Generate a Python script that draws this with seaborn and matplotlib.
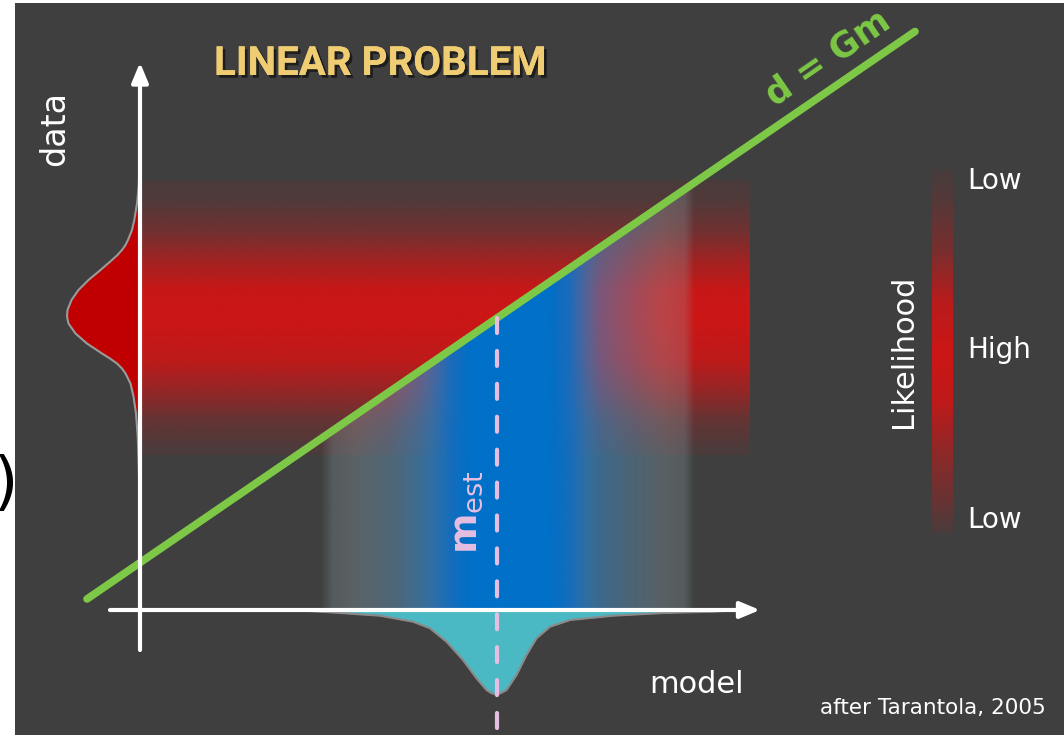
import numpy as np
import matplotlib
matplotlib.use("Agg")
import matplotlib.pyplot as plt
import seaborn as sns
from matplotlib.colors import LinearSegmentedColormap, Normalize
from matplotlib.cm import ScalarMappable
from matplotlib.patches import Polygon
import matplotlib.patheffects as pe

BG = '#3f3f3f'

# forward relation d = Gm (model, data end points)
line_m = [-1.06, 15.5]
line_d = [0.22, 11.57]

m_est = 7.14
d_obs = 5.84

# red likelihood band (profile across data direction)
red_band_m = [0.0, 12.2]
red_band_d = [3.1, 3.2, 3.8, 4.4, 5.0, 5.84, 6.4, 7.0, 7.6, 8.2, 8.6]
red_band_a = [0.08, 0.09, 0.27, 0.62, 0.9, 1.0, 0.97, 0.69, 0.34, 0.13, 0.08]

# blue band (profile across model direction)
blue_band_m = [3.6, 3.85, 4.3, 5.0, 5.6, 6.2, 6.6, 8.2, 8.6, 9.2, 9.9, 10.5, 10.9, 11.1]
blue_band_rgb = [(150, 175, 185), (150, 175, 185), (150, 175, 185), (100, 155, 195),
                 (58, 140, 204), (20, 112, 195), (0, 112, 200), (0, 112, 200),
                 (20, 112, 195), (58, 140, 204), (100, 155, 195), (150, 175, 185),
                 (150, 175, 185), (150, 175, 185)]
blue_band_a = [0.0, 0.25, 0.32, 0.42, 0.6, 0.95, 1.0, 1.0, 0.95, 0.55, 0.4, 0.3, 0.25, 0.0]

# likelihood legend bar, bottom -> top
legend_pos = [0.0, 0.08, 0.22, 0.36, 0.5, 0.64, 0.78, 0.92, 1.0]
legend_a = [0.08, 0.27, 0.55, 0.9, 1.0, 0.85, 0.4, 0.15, 0.06]
legend_ticks = [0.044, 0.512, 0.978]
legend_labels = ['Low', 'High', 'Low']

# data pdf (left of the data axis)
pdf_d = [9.2, 8.8, 8.47, 8.13, 7.8, 7.6, 7.4, 7.3, 7.2, 7.1, 7.0, 6.8, 6.6, 6.4, 6.2, 6.0,
         5.87, 5.73, 5.53, 5.33, 5.13, 5.03, 4.93, 4.83, 4.73, 4.53, 4.27, 3.93, 3.47, 2.93, 1.8]
pdf_w = [0.0, 0.014, 0.026, 0.06, 0.114, 0.16, 0.24, 0.29, 0.36, 0.45, 0.56, 0.79, 1.03, 1.23,
         1.37, 1.45, 1.46, 1.43, 1.29, 1.06, 0.76, 0.6, 0.46, 0.36, 0.29, 0.19, 0.13, 0.08,
         0.046, 0.026, 0.0]

# model pdf (below the model axis)
pdf_m = [3.0, 3.2, 3.8, 4.8, 5.46, 5.8, 6.13, 6.46, 6.73, 6.93, 7.02, 7.10, 7.2, 7.33, 7.53,
         7.73, 7.93, 8.2, 8.6, 9.46, 10.46, 11.46, 12.0]
pdf_h = [0.0, 0.01, 0.046, 0.114, 0.234, 0.366, 0.634, 1.0, 1.366, 1.6, 1.66, 1.686, 1.67, 1.6,
         1.3, 0.9, 0.566, 0.334, 0.2, 0.114, 0.06, 0.034, 0.0]


def band_cmap(pos, rgb, alpha, name):
    lo, hi = pos[0], pos[-1]
    stops = [((p - lo) / (hi - lo), (c[0] / 255, c[1] / 255, c[2] / 255, a))
             for p, c, a in zip(pos, rgb, alpha)]
    return LinearSegmentedColormap.from_list(name, stops, N=512)


sns.set_theme(style='dark', rc={'axes.facecolor': BG, 'figure.facecolor': 'white'})
plt.rcParams['font.family'] = ['DejaVu Sans']
plt.rcParams['mathtext.fontset'] = 'dejavusans'

fig = plt.figure(figsize=(10.64, 7.35), dpi=100)
ax = fig.add_axes([15 / 1064, 0, 1 - 15 / 1064, 732 / 735])
ax.set_facecolor(BG)

# red band
red = (205, 22, 22)
red_cmap = band_cmap(red_band_d, [red] * len(red_band_d), red_band_a, 'redband')
ax.imshow(np.linspace(0, 1, 512)[:, None], cmap=red_cmap, origin='lower', aspect='auto',
          extent=(red_band_m[0], red_band_m[1], red_band_d[0], red_band_d[-1]),
          interpolation='bilinear', zorder=1)

# blue band, only below the d = Gm line
blue_cmap = band_cmap(blue_band_m, blue_band_rgb, blue_band_a, 'blueband')
im = ax.imshow(np.linspace(0, 1, 512)[None, :], cmap=blue_cmap, origin='lower', aspect='auto',
               extent=(blue_band_m[0], blue_band_m[-1], 0, 12),
               interpolation='bilinear', zorder=2)
edge_d = np.interp([blue_band_m[0], blue_band_m[-1]], line_m, line_d)
clip = Polygon([(blue_band_m[0], 0), (blue_band_m[-1], 0),
                (blue_band_m[-1], edge_d[1]), (blue_band_m[0], edge_d[0])],
               closed=True, transform=ax.transData)
im.set_clip_path(clip)

# d = Gm
sns.lineplot(x=line_m, y=line_d, ax=ax, color='#7dc846', lw=5.5,
             solid_capstyle='round', zorder=3)

# data pdf
w = -np.array(pdf_w)
ax.fill_betweenx(pdf_d, w, 0, color='#c00000', lw=0, zorder=4)
sns.lineplot(x=w, y=pdf_d, ax=ax, sort=False, estimator=None, color='#9a9a9a', lw=1.5, zorder=4)

# model pdf
h = -np.array(pdf_h)
ax.fill_between(pdf_m, h, 0, color='#4bb9c3', lw=0, zorder=4)
sns.lineplot(x=pdf_m, y=h, ax=ax, sort=False, estimator=None, color='#8a8a8a', lw=1.5, zorder=4)

# axes arrows
arrow = dict(arrowstyle='-|>,head_length=0.6,head_width=0.25', lw=3, color='white',
             shrinkA=0, shrinkB=0, mutation_scale=20)
ax.annotate('', xy=(0, 10.95), xytext=(0, -0.8), arrowprops=arrow, zorder=5)
ax.annotate('', xy=(12.4, 0), xytext=(-0.6, 0), arrowprops=arrow, zorder=5)

# m_est
ax.plot([m_est, m_est], [d_obs, -2.5], color='#e6bee1', lw=3, dashes=(3.6, 4.3),
        dash_capstyle='round', zorder=6)

# texts
slope = (line_d[1] - line_d[0]) / (line_m[1] - line_m[0])
ax.text(4.8, 10.7, 'LINEAR PROBLEM', ha='center', va='baseline', fontsize=29,
        fontweight='bold', color='#f0cd73',
        family=['Liberation Sans Narrow', 'Roboto', 'DejaVu Sans'],
        path_effects=[pe.withSimplePatchShadow(offset=(2, -2), shadow_rgbFace='#151515', alpha=0.8),
                      pe.Normal()], zorder=7)
ax.text(13.76, 11.04, 'd = Gm', ha='center', va='center', rotation=np.degrees(np.arctan(slope)),
        rotation_mode='anchor', fontsize=25, fontweight='bold', color='#7dc846', zorder=7)
ax.text(-1.7, 9.64, 'data', ha='center', va='center', rotation=90, fontsize=24,
        color='white', zorder=7)
ax.text(11.14, -1.66, 'model', ha='center', va='baseline', fontsize=22, color='white', zorder=7)
ax.text(6.52, 1.96, r'$\mathbf{m}_{\mathrm{est}}$', ha='center', va='center', rotation=90,
        fontsize=28, color='#e6bee1', zorder=7)
ax.text(15.86, -2.08, 'after Tarantola, 2005', ha='center', va='baseline', fontsize=15.5,
        color='white', zorder=7)

ax.set_xlim(-2.5, 18.48)
ax.set_ylim(-2.5, 12.14)
ax.set_xticks([])
ax.set_yticks([])
for s in ax.spines.values():
    s.set_visible(False)

# likelihood legend
cax = fig.add_axes([932 / 1064, 202 / 735, 21 / 1064, 363 / 735])
cax.set_facecolor(BG)
leg_cmap = band_cmap(legend_pos, [red] * len(legend_pos), legend_a, 'legend')
cb = fig.colorbar(ScalarMappable(norm=Normalize(0, 1), cmap=leg_cmap), cax=cax)
cb.outline.set_visible(False)
cb.set_ticks(legend_ticks, labels=legend_labels)
cax.tick_params(length=0, pad=10, labelsize=20, colors='white')
cb.set_label('Likelihood', color='white', fontsize=22, labelpad=10)
cax.yaxis.set_label_position('left')

# cut-off bracket at the left edge of the slide
fig.text(19 / 1064, 1 - 485 / 735, '0)', ha='right', va='center', fontsize=46,
         color='black', zorder=-1)

fig.savefig('out.png', dpi=100, facecolor='white')
